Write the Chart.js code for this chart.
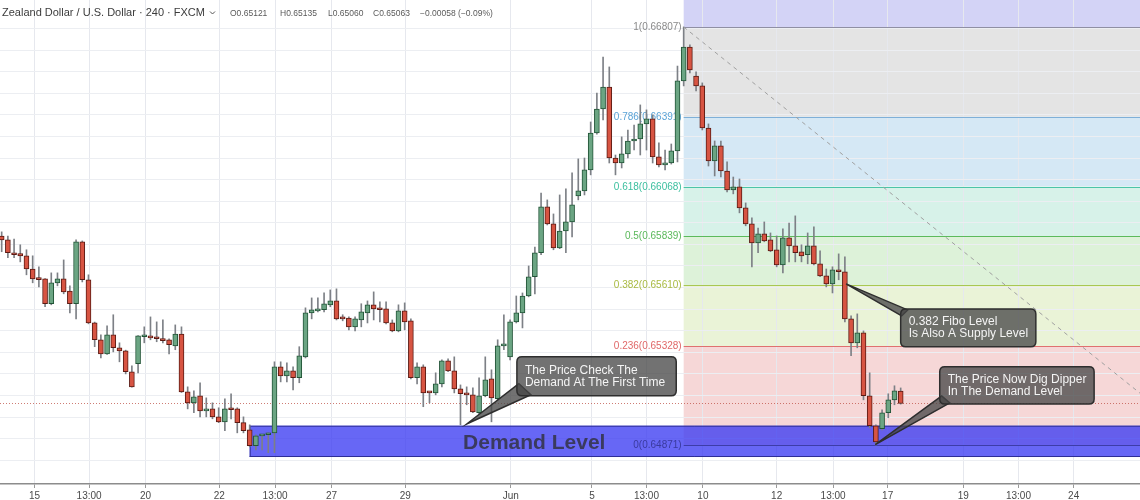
<!DOCTYPE html>
<html>
<head>
<meta charset="utf-8">
<script src="https://cdn.jsdelivr.net/npm/chart.js@4.4.1/dist/chart.umd.min.js"></script>
<style>
  html, body { margin: 0; padding: 0; background: #fff; }
  #wrap { width: 1140px; height: 500px; }
</style>
</head>
<body>
<div id="wrap"><canvas id="chart" width="1140" height="500"></canvas></div>
<script>
// NZD/USD, 4h candles (FXCM)
var opens = [0.65839,0.65821,0.65761,0.65757,0.65747,0.65686,0.65640,0.65640,0.65525,0.65622,
  0.65640,0.65584,0.65525,0.65812,0.65636,0.65436,0.65358,0.65293,0.65381,0.65321,
  0.65307,0.65210,0.65247,0.65372,0.65373,0.65369,0.65363,0.65358,0.65330,0.65385,
  0.65117,0.65066,0.65099,0.65029,0.65038,0.65001,0.64978,0.65038,0.65038,0.64974,
  0.64941,0.64867,0.64913,0.64918,0.64927,0.65233,0.65191,0.65214,0.65182,0.65279,
  0.65483,0.65492,0.65497,0.65520,0.65538,0.65459,0.65459,0.65418,0.65450,0.65483,
  0.65520,0.65501,0.65501,0.65436,0.65399,0.65492,0.65446,0.65182,0.65233,0.65117,
  0.65112,0.65154,0.65261,0.65214,0.65131,0.65108,0.65103,0.65020,0.65099,0.65177,
  0.65085,0.65330,0.65279,0.65441,0.65483,0.65561,0.65650,0.65761,0.65974,0.65895,
  0.65784,0.65862,0.65904,0.66025,0.66048,0.66145,0.66316,0.66427,0.66529,0.66200,
  0.66177,0.66219,0.66279,0.66288,0.66358,0.66381,0.66205,0.66168,0.66177,0.66233,
  0.66557,0.66714,0.66580,0.66534,0.66339,0.66187,0.66256,0.66140,0.66052,0.66066,
  0.65969,0.65895,0.65807,0.65849,0.65821,0.65775,0.65705,0.65830,0.65793,0.65766,
  0.65752,0.65793,0.65710,0.65654,0.65617,0.65682,0.65673,0.65455,0.65344,0.65390,
  0.65099,0.64960,0.64946,0.65020,0.65080,0.65121];
var highs = [0.65858,0.65839,0.65825,0.65798,0.65775,0.65747,0.65696,0.65642,0.65668,0.65668,
  0.65728,0.65608,0.65821,0.65816,0.65659,0.65440,0.65381,0.65423,0.65474,0.65344,
  0.65310,0.65237,0.65378,0.65418,0.65464,0.65441,0.65450,0.65363,0.65427,0.65418,
  0.65140,0.65122,0.65159,0.65089,0.65066,0.65043,0.65085,0.65108,0.65043,0.65001,
  0.64964,0.64918,0.64918,0.64927,0.65256,0.65256,0.65251,0.65233,0.65326,0.65506,
  0.65552,0.65552,0.65575,0.65589,0.65594,0.65474,0.65464,0.65464,0.65525,0.65538,
  0.65580,0.65534,0.65534,0.65450,0.65520,0.65529,0.65455,0.65251,0.65242,0.65117,
  0.65205,0.65265,0.65270,0.65279,0.65149,0.65140,0.65135,0.65182,0.65279,0.65219,
  0.65358,0.65474,0.65450,0.65561,0.65575,0.65700,0.65788,0.66038,0.66006,0.65941,
  0.66029,0.66057,0.66131,0.66196,0.66200,0.66367,0.66501,0.66668,0.66622,0.66214,
  0.66298,0.66330,0.66353,0.66446,0.66423,0.66400,0.66270,0.66237,0.66265,0.66626,
  0.66807,0.66724,0.66599,0.66548,0.66358,0.66279,0.66279,0.66182,0.66112,0.66103,
  0.65992,0.65923,0.65876,0.65904,0.65853,0.65839,0.65872,0.65899,0.65932,0.65798,
  0.65853,0.65881,0.65770,0.65686,0.65696,0.65756,0.65742,0.65469,0.65478,0.65399,
  0.65205,0.64964,0.65034,0.65108,0.65145,0.65135];
var lows = [0.65766,0.65738,0.65738,0.65719,0.65659,0.65622,0.65603,0.65511,0.65520,0.65608,
  0.65571,0.65483,0.65455,0.65626,0.65432,0.65326,0.65274,0.65290,0.65302,0.65256,
  0.65200,0.65138,0.65205,0.65344,0.65358,0.65349,0.65344,0.65293,0.65312,0.65114,
  0.65038,0.65020,0.65001,0.65001,0.64992,0.64974,0.64937,0.64992,0.64927,0.64927,
  0.64862,0.64848,0.64848,0.64835,0.64835,0.65163,0.65163,0.65126,0.65159,0.65274,
  0.65455,0.65487,0.65487,0.65511,0.65450,0.65446,0.65404,0.65399,0.65418,0.65436,
  0.65450,0.65441,0.65432,0.65395,0.65395,0.65404,0.65177,0.65154,0.65048,0.65066,
  0.65103,0.65140,0.65210,0.65112,0.64964,0.65057,0.65020,0.65015,0.65094,0.64978,
  0.65080,0.65312,0.65265,0.65436,0.65413,0.65557,0.65571,0.65752,0.65890,0.65775,
  0.65780,0.65761,0.65835,0.66006,0.66029,0.66122,0.66311,0.66376,0.66177,0.66122,
  0.66154,0.66200,0.66237,0.66214,0.66237,0.66177,0.66159,0.66145,0.66172,0.66182,
  0.66534,0.66594,0.66511,0.66330,0.66163,0.66117,0.66112,0.66043,0.66034,0.65946,
  0.65886,0.65696,0.65761,0.65812,0.65766,0.65696,0.65668,0.65719,0.65719,0.65719,
  0.65710,0.65705,0.65650,0.65603,0.65575,0.65636,0.65441,0.65284,0.65321,0.65080,
  0.64950,0.64871,0.64941,0.64997,0.65057,0.65060];
var closes = [0.65821,0.65761,0.65752,0.65747,0.65686,0.65640,0.65637,0.65525,0.65622,0.65640,
  0.65580,0.65525,0.65812,0.65636,0.65436,0.65358,0.65293,0.65381,0.65321,0.65307,
  0.65210,0.65140,0.65376,0.65376,0.65367,0.65363,0.65354,0.65335,0.65385,0.65117,
  0.65066,0.65094,0.65029,0.65038,0.65001,0.64978,0.65038,0.65034,0.64974,0.64937,
  0.64867,0.64913,0.64918,0.64923,0.65233,0.65191,0.65214,0.65182,0.65284,0.65483,
  0.65497,0.65501,0.65525,0.65538,0.65455,0.65455,0.65418,0.65455,0.65487,0.65520,
  0.65501,0.65497,0.65436,0.65399,0.65492,0.65441,0.65182,0.65233,0.65112,0.65112,
  0.65154,0.65261,0.65214,0.65131,0.65108,0.65103,0.65024,0.65099,0.65173,0.65089,
  0.65330,0.65335,0.65441,0.65483,0.65561,0.65650,0.65761,0.65974,0.65895,0.65784,
  0.65862,0.65904,0.65983,0.66048,0.66145,0.66316,0.66427,0.66529,0.66200,0.66177,
  0.66219,0.66279,0.66288,0.66358,0.66381,0.66205,0.66168,0.66177,0.66233,0.66557,
  0.66714,0.66608,0.66534,0.66339,0.66187,0.66256,0.66140,0.66052,0.66066,0.65969,
  0.65895,0.65807,0.65849,0.65816,0.65770,0.65705,0.65830,0.65793,0.65761,0.65747,
  0.65793,0.65710,0.65654,0.65617,0.65682,0.65673,0.65455,0.65344,0.65390,0.65099,
  0.64960,0.64885,0.65020,0.65080,0.65122,0.65063];

// x-axis labels and the candle slot they sit on
var tickPos  = [5.3, 14.1, 23.2, 35.1, 44.1, 53.2, 65.1, 82.1, 95.2, 104.0, 113.1, 125.0, 134.1, 142.9, 155.1, 164.0, 172.9];
var tickText = ['15', '13:00', '20', '22', '13:00', '27', '29', 'Jun', '5', '13:00', '10', '12', '13:00', '17', '19', '13:00', '24'];

// fibonacci retracement drawn from the top at candle 110
var fibLevels = ['1', '0.786', '0.618', '0.5', '0.382', '0.236', '0'];
var fibPrices = [0.66807, 0.66391, 0.66068, 0.65839, 0.65610, 0.65328, 0.64871];
var fibFrom = 110, fibTo = 194;

// demand zone
var demandTop = 0.64960, demandBottom = 0.64815, demandFrom = 40;

var fibZone  = ['#d3d3f6', '#e4e4e4', '#d5e8f5', '#d7f2e9', '#ddf2d9', '#eaf3d7', '#f6d7d7'];
var fibLine  = ['#8f8fa3', '#7fb0d8', '#4cc4a8', '#5cba5c', '#a9c753', '#e07070', '#3d3da8'];
var fibLabel = ['#8a8a8a', '#5aa3d6', '#3bbf9e', '#5ab85a', '#a9ba40', '#e06868', '#3a3a9e'];

var UP = '#6ba583', DOWN = '#d75442';
var upBorder = '#225437', downBorder = '#5b1a13';

var wicks = [], bodies = [], bodyColor = [], bodyBorder = [];
for (var i = 0; i < opens.length; i++) {
  var up = closes[i] >= opens[i];
  wicks.push({ x: i, y: [lows[i], highs[i]] });
  bodies.push({ x: i, y: [opens[i], closes[i]] });
  bodyColor.push(up ? UP : DOWN);
  bodyBorder.push(up ? upBorder : downBorder);
}

var callouts = [
  { lines: ['The Price Check The', 'Demand At The First Time'], box: [83.1, 108.8, 0.65279, 0.65099], tip: [75.05, 0.64969], corner: 'bl', wide: 12 },
  { lines: ['0.382 Fibo Level', 'Is Also A Supply Level'], box: [145.0, 166.8, 0.65501, 0.65326], tip: [136.2, 0.65617], corner: 'tl', wide: 7 },
  { lines: ['The Price Now Dig Dipper', 'In The Demand Level'], box: [151.3, 176.2, 0.65233, 0.65061], tip: [140.9, 0.64872], corner: 'bl', wide: 8 }
];

function roundRect(ctx, x, y, w, h, r) {
  ctx.beginPath();
  ctx.moveTo(x + r, y);
  ctx.lineTo(x + w - r, y);
  ctx.quadraticCurveTo(x + w, y, x + w, y + r);
  ctx.lineTo(x + w, y + h - r);
  ctx.quadraticCurveTo(x + w, y + h, x + w - r, y + h);
  ctx.lineTo(x + r, y + h);
  ctx.quadraticCurveTo(x, y + h, x, y + h - r);
  ctx.lineTo(x, y + r);
  ctx.quadraticCurveTo(x, y, x + r, y);
  ctx.closePath();
}

var drawings = {
  id: 'drawings',
  beforeDraw: function (chart) {
    var ctx = chart.ctx, xs = chart.scales.x, ys = chart.scales.y, area = chart.chartArea;
    ctx.save();
    ctx.fillStyle = '#ffffff';
    ctx.fillRect(0, 0, chart.width, chart.height);
    var x0 = xs.getPixelForValue(fibFrom), x1 = area.right;
    // band above the 1 level
    var yTop = ys.getPixelForValue(fibPrices[0]);
    ctx.fillStyle = fibZone[0];
    ctx.fillRect(x0, area.top, x1 - x0, yTop - area.top);
    for (var k = 0; k < fibPrices.length - 1; k++) {
      var ya = ys.getPixelForValue(fibPrices[k]), yb = ys.getPixelForValue(fibPrices[k + 1]);
      ctx.fillStyle = fibZone[k + 1];
      ctx.fillRect(x0, ya, x1 - x0, yb - ya);
    }
    ctx.restore();
  },
  beforeDatasetsDraw: function (chart) {
    var ctx = chart.ctx, xs = chart.scales.x, ys = chart.scales.y, area = chart.chartArea;
    ctx.save();
    // demand zone
    var dx = xs.getPixelForValue(demandFrom);
    var dt = ys.getPixelForValue(demandTop), db = ys.getPixelForValue(demandBottom);
    ctx.fillStyle = 'rgba(60,60,242,0.78)';
    ctx.fillRect(dx, dt, area.right - dx, db - dt);
    ctx.strokeStyle = '#2e2e96';
    ctx.lineWidth = 1;
    ctx.beginPath();
    ctx.moveTo(dx, dt + 0.5); ctx.lineTo(area.right, dt + 0.5);
    ctx.moveTo(dx, db - 0.5); ctx.lineTo(area.right, db - 0.5);
    ctx.moveTo(dx + 0.5, dt); ctx.lineTo(dx + 0.5, db);
    ctx.stroke();

    // fib lines and labels
    var x0 = xs.getPixelForValue(fibFrom);
    ctx.font = '10px "Liberation Sans", Arial, sans-serif';
    ctx.textAlign = 'right';
    ctx.textBaseline = 'middle';
    for (var k = 0; k < fibPrices.length; k++) {
      var y = Math.round(ys.getPixelForValue(fibPrices[k])) + 0.5;
      ctx.strokeStyle = fibLine[k];
      ctx.beginPath();
      ctx.moveTo(x0, y); ctx.lineTo(area.right, y);
      ctx.stroke();
      ctx.fillStyle = fibLabel[k];
      ctx.fillText(fibLevels[k] + '(' + fibPrices[k].toFixed(5) + ')', x0 - 2, y);
    }

    // last price line
    var yp = Math.round(ys.getPixelForValue(closes[closes.length - 1])) + 0.5;
    ctx.strokeStyle = 'rgba(190,80,70,0.75)';
    ctx.setLineDash([1, 2]);
    ctx.beginPath();
    ctx.moveTo(area.left, yp); ctx.lineTo(area.right, yp);
    ctx.stroke();
    ctx.restore();
  },
  afterDatasetsDraw: function (chart) {
    var ctx = chart.ctx, xs = chart.scales.x, ys = chart.scales.y;
    ctx.save();
    // zone caption
    ctx.font = 'bold 21px "Liberation Sans", Arial, sans-serif';
    ctx.fillStyle = '#3a3a5e';
    ctx.textAlign = 'center';
    ctx.textBaseline = 'middle';
    ctx.fillText('Demand Level', xs.getPixelForValue(85.9), ys.getPixelForValue(0.64881));

    // callouts
    callouts.forEach(function (c) {
      var bx0 = xs.getPixelForValue(c.box[0]), bx1 = xs.getPixelForValue(c.box[1]);
      var by0 = ys.getPixelForValue(c.box[2]), by1 = ys.getPixelForValue(c.box[3]);
      var tx = xs.getPixelForValue(c.tip[0]), ty = ys.getPixelForValue(c.tip[1]);
      var b1, b2, w = c.wide;
      if (c.corner === 'bl') { b1 = [bx0 + 2, by1 - w]; b2 = [bx0 + w + 2, by1 - 1]; }
      else { b1 = [bx0 + 1, by0 + w]; b2 = [bx0 + w, by0 + 1]; }
      ctx.fillStyle = 'rgba(70,70,70,0.76)';
      ctx.strokeStyle = '#2e2e2e';
      ctx.lineWidth = 1.5;
      ctx.beginPath();
      ctx.moveTo(b1[0], b1[1]); ctx.lineTo(tx, ty); ctx.lineTo(b2[0], b2[1]);
      ctx.closePath();
      ctx.fill(); ctx.stroke();
      roundRect(ctx, bx0, by0, bx1 - bx0, by1 - by0, 5);
      ctx.fill(); ctx.stroke();
      ctx.fillStyle = '#f4f4f4';
      ctx.font = '12px "Liberation Sans", Arial, sans-serif';
      ctx.textAlign = 'left';
      ctx.textBaseline = 'middle';
      var cy = (by0 + by1) / 2;
      ctx.fillText(c.lines[0], bx0 + 8, cy - 6);
      ctx.fillText(c.lines[1], bx0 + 8, cy + 6);
    });

    // header
    ctx.textAlign = 'left';
    ctx.textBaseline = 'middle';
    ctx.fillStyle = '#3c3c3c';
    ctx.font = '11px "Liberation Sans", Arial, sans-serif';
    ctx.fillText('Zealand Dollar / U.S. Dollar \u00b7 240 \u00b7 FXCM', 2, 13);
    ctx.strokeStyle = '#555';
    ctx.lineWidth = 1;
    ctx.beginPath();
    ctx.moveTo(210, 11.5); ctx.lineTo(212.5, 14); ctx.lineTo(215, 11.5);
    ctx.stroke();
    ctx.fillStyle = '#5a5a5a';
    ctx.font = '8.5px "Liberation Sans", Arial, sans-serif';
    ctx.fillText('O0.65121', 230, 14);
    ctx.fillText('H0.65135', 280, 14);
    ctx.fillText('L0.65060', 328, 14);
    ctx.fillText('C0.65063', 373, 14);
    ctx.fillText('\u22120.00058 (\u22120.09%)', 420, 14);
    ctx.restore();
  }
};

Chart.defaults.font.family = '"Liberation Sans", Arial, sans-serif';

var ctx = document.getElementById('chart');
var chart = new Chart(ctx, {
  type: 'bar',
  data: {
    datasets: [
      {
        type: 'line',
        data: [{ x: fibFrom, y: fibPrices[0] }, { x: fibTo, y: fibPrices[fibPrices.length - 1] }],
        borderColor: '#a0a0a0',
        borderWidth: 1,
        borderDash: [4, 4],
        pointRadius: 0,
        order: 0
      },
      {
        data: bodies,
        backgroundColor: bodyColor,
        borderColor: bodyBorder,
        borderWidth: 1,
        borderSkipped: false,
        barThickness: 5,
        minBarLength: 2,
        grouped: false,
        order: 1
      },
      {
        data: wicks,
        backgroundColor: '#7d8086',
        borderWidth: 0,
        barThickness: 1,
        grouped: false,
        order: 2
      }
    ]
  },
  options: {
    responsive: false,
    animation: false,
    layout: { padding: 0 },
    plugins: { legend: { display: false }, tooltip: { enabled: false } },
    scales: {
      x: {
        type: 'linear',
        min: -0.27,
        max: 183.6,
        offset: false,
        afterBuildTicks: function (s) { s.ticks = tickPos.map(function (v) { return { value: v }; }); },
        afterFit: function (s) { s.height = 16; },
        ticks: {
          autoSkip: false,
          maxRotation: 0,
          padding: 2,
          color: '#4a4a4a',
          font: { size: 10 },
          callback: function (v, k) { return tickText[k]; }
        },
        grid: { offset: false, color: '#e6e8ee', tickLength: 4, tickColor: '#9a9a9a' },
        border: { color: '#8c8c8c', width: 1.5 }
      },
      y: {
        position: 'right',
        min: 0.64690,
        max: 0.66932,
        afterBuildTicks: function (s) {
          s.ticks = s.ticks.filter(function (t) { return Math.abs(t.value * 1000 - Math.round(t.value * 1000)) < 1e-6; });
        },
        ticks: { display: false, stepSize: 0.001 },
        grid: { color: '#eceef2', drawTicks: false },
        border: { display: false }
      }
    }
  },
  plugins: [drawings]
});
</script>
</body>
</html>
